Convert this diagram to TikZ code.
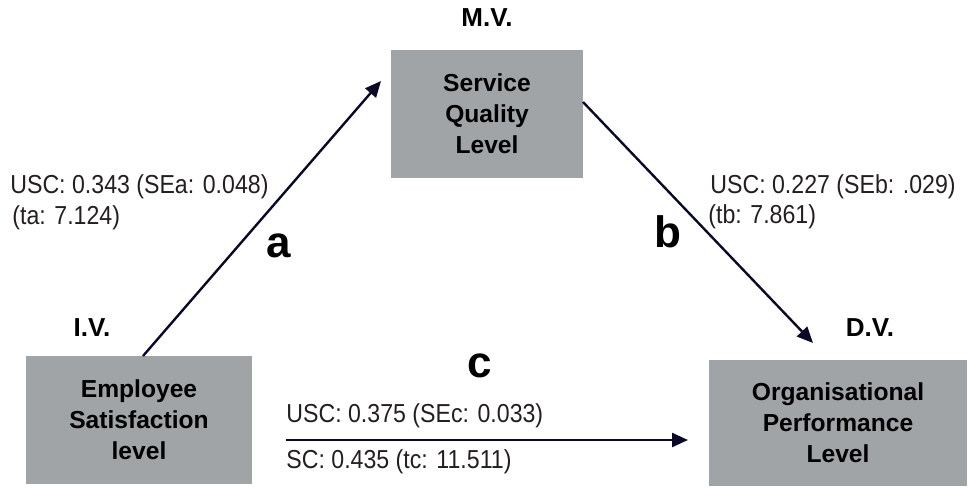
\documentclass[tikz,border=0pt]{standalone}
\usepackage{fontspec}
\setmainfont{Liberation Sans}
\newfontfamily\narrowfont[FakeStretch=0.89]{Liberation Sans}
\usetikzlibrary{arrows.meta}

\definecolor{boxgray}{RGB}{160,164,167}
\definecolor{inkgray}{RGB}{35,31,32}
\definecolor{arrownavy}{RGB}{10,10,40}

\begin{document}
\begin{tikzpicture}[
            x=0.5pt, y=-0.5pt,
            var/.style={
                fill=boxgray,
                inner sep=0pt, outer sep=0pt,
                align=center,
                font=\fontsize{12.3}{15.5}\selectfont\bfseries
            },
            role/.style={font=\fontsize{13}{15}\selectfont\bfseries, inner sep=0pt, anchor=base},
            path label/.style={font=\fontsize{22}{26}\selectfont\bfseries, inner sep=0pt, anchor=base},
            stat/.style={font=\narrowfont\fontsize{13}{15}\selectfont, text=inkgray, inner sep=0pt, anchor=base west},
            link/.style={draw=arrownavy, line width=1.2pt, -{Triangle[length=8pt,width=7pt]}}
        ]
            \useasboundingbox (0,0) rectangle (968,487);

            \node[var, minimum width=96pt, minimum height=64pt] (svc) at (487,114) {Service\\Quality\\Level};
            \node[var, minimum width=113pt, minimum height=64pt] (emp) at (139,420) {Employee\\Satisfaction\\level};
            \node[var, minimum width=129pt, minimum height=63pt] (org) at (838,423) {Organisational\\Performance\\Level};

            \node[role] (mv) at (487,26) {M.V.};
            \node[role] (iv) at (92,336) {I.V.};
            \node[role] (dv) at (870,336) {D.V.};

            \coordinate (atip) at (381,81);
            \coordinate (btip) at (813,343);
            \coordinate (cstart) at (286,440);
            \coordinate (ctip) at (688,440);

            \draw[link] ([xshift=2pt]emp.north) -- (atip);
            \draw[link] ([yshift=6pt]svc.east) -- (btip);
            \draw[link] (cstart) -- (ctip);

            \node[path label] (pa) at (279,257) {a};
            \node[path label] (pb) at (668,247) {b};
            \node[path label] (pc) at (480,377) {c};

            \node[stat] (usca) at (10,193) {USC: 0.343 (SEa: 0.048)};
            \node[stat] (ta) at (12,224) {(ta: 7.124)};
            \node[stat] (uscb) at (710,193) {USC: 0.227 (SEb: .029)};
            \node[stat] (tb) at (708,223) {(tb: 7.861)};
            \node[stat] (uscc) at (286,422) {USC: 0.375 (SEc: 0.033)};
            \node[stat] (sc) at (286,468) {SC: 0.435 (tc: 11.511)};

        \end{tikzpicture}
\end{document}
